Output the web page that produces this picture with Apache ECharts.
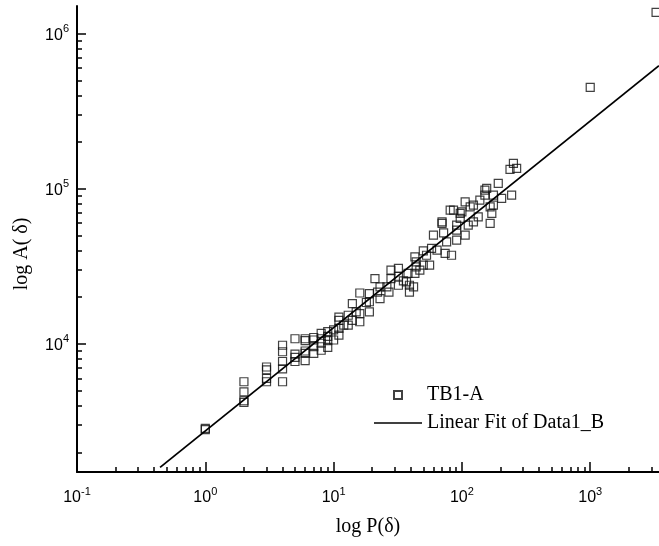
<!DOCTYPE html>
<html>
<head>
<meta charset="utf-8">
<title>TB1-A</title>
<script src="https://cdn.jsdelivr.net/npm/echarts@6/dist/echarts.min.js"></script>
<style>
  html, body { margin: 0; padding: 0; background: #fff; }
  #main { width: 659px; height: 546px; }
</style>
</head>
<body>
<div id="main"></div>
<script>
// TB1-A points [P, A]
var tb1aPoints = [
  [1, 2850], [1, 2800],
  [2, 5700], [2, 4900], [2, 4300], [2, 4200],
  [3, 7100], [3, 6800], [3, 6000], [3, 5700],
  [4, 9800], [4, 8900], [4, 7700], [4, 6900], [4, 5700],
  [5, 10800], [5, 8600], [5, 8200], [5, 7700],
  [6, 10800], [6, 10500], [6, 9000], [6, 8700], [6, 7800],
  [7, 11000], [7, 10600], [7, 9600], [7, 8700],
  [8, 11700], [8, 10800], [8, 10100], [8, 9100],
  [9, 12000], [9, 11200], [9, 10500], [9, 9500],
  [10, 12300], [10, 10600], [11, 14900], [11, 14200], [11, 12600], [11, 11400],
  [12, 13200], [13, 15300], [13, 13200], [14, 18200], [14, 14200],
  [15, 16100], [16, 21300], [16, 15700], [16, 13900], [18, 18500],
  [19, 21100], [19, 18700], [19, 16100], [21, 26400], [22, 21600],
  [23, 23300], [23, 19600], [26, 23300], [27, 21600], [28, 29900], [28, 26400],
  [32, 30700], [32, 27300], [32, 23900], [35, 25500], [37, 25100],
  [38, 28500], [39, 23900], [39, 21600], [42, 23300], [43, 36400], [43, 28500],
  [44, 33800], [44, 31400], [47, 29900], [50, 39800], [50, 32200], [53, 37300],
  [56, 32200], [58, 41300], [60, 50300], [64, 40200], [70, 59800], [70, 61300],
  [72, 52000], [74, 38300], [76, 45500], [81, 72900], [83, 37300], [86, 72900],
  [91, 54100], [91, 46700], [91, 58300], [97, 69400], [97, 64400], [100, 71000],
  [106, 82400], [106, 50300], [112, 58300], [116, 76500], [123, 78500], [123, 61300],
  [134, 66000], [138, 84600], [151, 98100], [151, 91000], [156, 100600],
  [166, 76500], [166, 59800], [171, 69400], [176, 91000], [176, 78500],
  [192, 108300], [204, 86700], [237, 133400], [244, 91000], [252, 145800], [267, 135400],
  [1000, 451000], [3260, 1375000]
];

// linear fit (in log-log) end points
var fitP = [0.444, 3436];
var fitA = [1600, 623000];

// axis ranges and ticks
var xRange = [0.1, 3436];
var yRange = [1493, 1510000];
var xMajor = [0.1, 1, 10, 100, 1000];
var yMajor = [1e4, 1e5, 1e6];
var xMinor = [];
var yMinor = [];
[0.1, 1, 10, 100, 1000].forEach(function (d) {
  for (var k = 2; k <= 9; k++) {
    var v = +(d * k).toPrecision(3);
    if (v < xRange[1]) xMinor.push(v);
  }
});
[1000, 1e4, 1e5, 1e6].forEach(function (d) {
  for (var k = 2; k <= 9; k++) {
    var v = d * k;
    if (v > yRange[0] && v < yRange[1]) yMinor.push(v);
  }
});

var fitLine = fitP.map(function (p, i) { return [p, fitA[i]]; });

var powLabel = function (v) {
  var n = Math.round(Math.log10(v));
  return '{b|10}{e|' + n + '}';
};
var richPow = {
  b: { fontFamily: 'Liberation Sans', fontSize: 16, color: '#000', padding: [4, 0, 0, 0] },
  e: { fontFamily: 'Liberation Sans', fontSize: 11, color: '#000', verticalAlign: 'top' }
};

var chart = echarts.init(document.getElementById('main'));
chart.setOption({
  animation: false,
  grid: { left: 77, right: 0, top: 6, bottom: 74 },
  xAxis: [{
    type: 'log',
    min: xRange[0],
    max: xRange[1],
    name: 'log P(δ)',
    nameLocation: 'middle',
    nameGap: 45,
    nameTextStyle: { fontFamily: 'Liberation Serif', fontSize: 20, color: '#000' },
    axisLine: { lineStyle: { color: '#000', width: 2 } },
    axisTick: { inside: true, length: 10, customValues: xMajor, lineStyle: { color: '#000', width: 1.5 } },
    axisLabel: { margin: 14, customValues: xMajor, formatter: powLabel, rich: richPow },
    splitLine: { show: false }
  }, {
    type: 'log',
    min: xRange[0],
    max: xRange[1],
    position: 'bottom',
    axisLine: { show: false },
    axisTick: { inside: true, length: 5, customValues: xMinor, lineStyle: { color: '#000', width: 1.5 } },
    axisLabel: { show: false },
    splitLine: { show: false }
  }],
  yAxis: [{
    type: 'log',
    min: yRange[0],
    max: yRange[1],
    name: 'log A( δ)',
    nameLocation: 'middle',
    nameGap: 45,
    nameTextStyle: { fontFamily: 'Liberation Serif', fontSize: 20, color: '#000', padding: [0, 30, 0, 0] },
    axisLine: { lineStyle: { color: '#000', width: 2 } },
    axisTick: { inside: true, length: 9, customValues: yMajor, lineStyle: { color: '#000', width: 1.5 } },
    axisLabel: { margin: 8, customValues: yMajor, formatter: powLabel, rich: richPow },
    splitLine: { show: false }
  }, {
    type: 'log',
    min: yRange[0],
    max: yRange[1],
    position: 'left',
    axisLine: { show: false },
    axisTick: { inside: true, length: 5, customValues: yMinor, lineStyle: { color: '#000', width: 1.5 } },
    axisLabel: { show: false },
    splitLine: { show: false }
  }],
  legend: {
    orient: 'vertical',
    left: 374,
    top: 385,
    padding: 0,
    itemWidth: 48,
    itemHeight: 8,
    itemGap: 8,
    symbolKeepAspect: true,
    textStyle: { fontFamily: 'Liberation Serif', fontSize: 20, color: '#000' },
    data: [
      { name: 'TB1-A', icon: 'path://M0,0L10,0L10,10L0,10Z' },
      { name: 'Linear Fit of Data1_B', icon: 'path://M0,0L48,0L48,1.7L0,1.7Z' }
    ]
  },
  series: [{
    name: 'TB1-A',
    type: 'scatter',
    symbol: 'rect',
    symbolSize: 8,
    data: tb1aPoints,
    itemStyle: { color: 'rgba(0,0,0,0)', borderColor: '#111', borderWidth: 1.2 }
  }, {
    name: 'Linear Fit of Data1_B',
    type: 'line',
    symbol: 'none',
    data: fitLine,
    itemStyle: { color: '#000' },
    lineStyle: { color: '#000', width: 1.8 }
  }]
});
</script>
</body>
</html>
